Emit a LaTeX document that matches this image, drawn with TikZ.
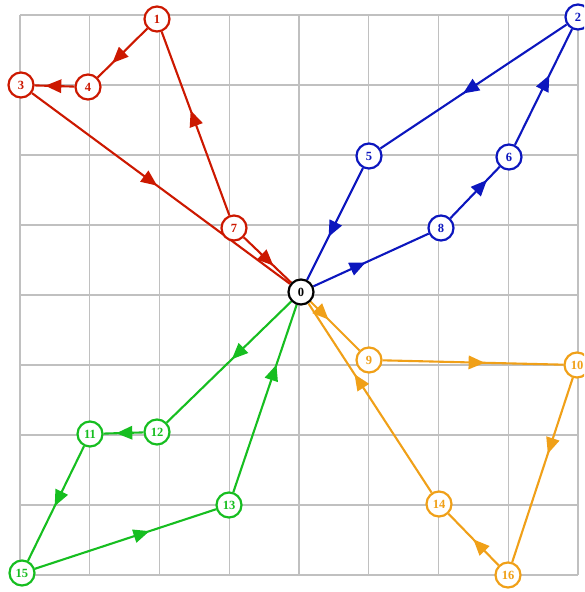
\documentclass[tikz,border=0pt]{standalone}
\usepackage{fontspec}
\setmainfont{Liberation Serif}
\usetikzlibrary{decorations.markings}
\definecolor{cred}{RGB}{204,24,0}
\definecolor{cblue}{RGB}{12,22,190}
\definecolor{cgreen}{RGB}{22,190,32}
\definecolor{corange}{RGB}{240,160,24}
\definecolor{cgrid}{RGB}{192,192,192}
\pgfdeclarelayer{gridlayer}
\pgfdeclarelayer{edgelayer}
\pgfsetlayers{gridlayer,edgelayer,main}
\begin{document}
\begin{tikzpicture}[x=1pt,y=-1pt,
  vtx/.style={circle,draw=#1,fill=white,line width=2.2pt,minimum size=25pt,inner sep=0pt,text=#1,font=\bfseries\fontsize{12.5}{12.5}\selectfont},
  gridline/.style={draw=cgrid,line width=1.1pt},
  edge/.style 2 args={draw=#1,line width=2.1pt,postaction={decorate},
    decoration={markings,mark=at position #2 with {\fill[#1] (-8pt,-7pt) -- (8pt,0pt) -- (-8pt,7pt) -- cycle;}}}]
\useasboundingbox (0,0) rectangle (584,592);
\clip (0,0) rectangle (584,592);
\begin{pgfonlayer}{gridlayer}
\foreach \i in {0,...,8} {
  \draw[gridline] ({20+69.75*\i},15) -- ({20+69.75*\i},575);
  \draw[gridline] (20,{15+70*\i}) -- (578,{15+70*\i});
}
\end{pgfonlayer}
% nodes
\node[vtx=black] (n0) at (301,292) {0};
\node[vtx=cred] (n1) at (157,19) {1};
\node[vtx=cblue] (n2) at (578,17) {2};
\node[vtx=cred] (n3) at (21,85) {3};
\node[vtx=cred] (n4) at (88,87) {4};
\node[vtx=cblue] (n5) at (369,156) {5};
\node[vtx=cblue] (n6) at (509,157) {6};
\node[vtx=cred] (n7) at (234,228) {7};
\node[vtx=cblue] (n8) at (441,228) {8};
\node[vtx=corange] (n9) at (369,360) {9};
\node[vtx=corange] (n10) at (577,365) {10};
\node[vtx=cgreen] (n11) at (90,434) {11};
\node[vtx=cgreen] (n12) at (157,432) {12};
\node[vtx=cgreen] (n13) at (229,505) {13};
\node[vtx=corange] (n14) at (439,504) {14};
\node[vtx=cgreen] (n15) at (22,573) {15};
\node[vtx=corange] (n16) at (508,575) {16};
\begin{pgfonlayer}{edgelayer}
% red
\draw[edge={cred}{0.59}] (n1) -- (n4);
\draw[edge={cred}{0.53}] (n4) -- (n3);
\draw[edge={cred}{0.46}] (n3) -- (n0);
\draw[edge={cred}{0.5}] (n7) -- (n0);
\draw[edge={cred}{0.53}] (n7) -- (n1);
% blue
\draw[edge={cblue}{0.52}] (n2) -- (n5);
\draw[edge={cblue}{0.55}] (n5) -- (n0);
\draw[edge={cblue}{0.39}] (n0) -- (n8);
\draw[edge={cblue}{0.63}] (n8) -- (n6);
\draw[edge={cblue}{0.54}] (n6) -- (n2);
% green
\draw[edge={cgreen}{0.43}] (n0) -- (n12);
\draw[edge={cgreen}{0.48}] (n12) -- (n11);
\draw[edge={cgreen}{0.46}] (n11) -- (n15);
\draw[edge={cgreen}{0.59}] (n15) -- (n13);
\draw[edge={cgreen}{0.64}] (n13) -- (n0);
% orange
\draw[edge={corange}{0.25}] (n0) -- (n9);
\draw[edge={corange}{0.52}] (n9) -- (n10);
\draw[edge={corange}{0.37}] (n10) -- (n16);
\draw[edge={corange}{0.39}] (n16) -- (n14);
\draw[edge={corange}{0.59}] (n14) -- (n0);
\end{pgfonlayer}
\end{tikzpicture}
\end{document}
